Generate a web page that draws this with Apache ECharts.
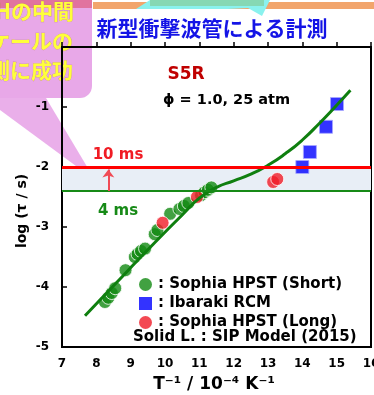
<!DOCTYPE html>
<html>
<head>
<meta charset="utf-8">
<script src="https://cdn.jsdelivr.net/npm/echarts@6/dist/echarts.min.js"></script>
<style>
html,body{margin:0;padding:0;background:#fff;}
#c{width:374px;height:395px;}
</style>
</head>
<body>
<div id="c"></div>
<script>
// Ignition delay times, log10(tau / s) against 1/T in 10^-4 K^-1
const sophiaShort = [
  [8.25,-4.25],[8.35,-4.18],[8.45,-4.10],[8.55,-4.02],[8.85,-3.72],
  [9.12,-3.50],[9.20,-3.45],[9.30,-3.40],[9.42,-3.36],[9.70,-3.12],
  [9.78,-3.05],[10.15,-2.78],[10.42,-2.70],[10.55,-2.65],[10.68,-2.60],
  [11.05,-2.47],[11.15,-2.42],[11.25,-2.38],[11.35,-2.34]
];
const ibarakiRcm = [[14.00,-2.00],[14.22,-1.75],[14.69,-1.33],[15.01,-0.95]];
const sophiaLong = [[9.93,-2.93],[10.93,-2.50],[13.15,-2.25],[13.27,-2.20]];
const sipModel = [
  [7.67,-4.48],[8.5,-3.98],[9.5,-3.38],[10.5,-2.80],[11.0,-2.52],[11.5,-2.34],
  [12.0,-2.23],[12.5,-2.12],[13.0,-1.97],[13.5,-1.78],[14.0,-1.55],[14.5,-1.27],
  [15.0,-0.97],[15.4,-0.72]
];
// Test-time limits of the two tube configurations, in ms
const limitTimesMs = [10, 4];
const xTickRange = [7, 16];
const yTickRange = [-5, 0];
const yHiddenLabels = ['0'];

const logLong = Math.log10(limitTimesMs[0] / 1000);
const logShort = Math.log10(limitTimesMs[1] / 1000);

const FONT = 'DejaVu Sans';
const chart = echarts.init(document.getElementById('c'), null, {renderer: 'canvas'});

const option = {
  animation: false,
  backgroundColor: '#ffffff',
  grid: {
    left: 62, right: 3, top: 47, bottom: 48,
    outerBoundsMode: 'none', containLabel: false,
    show: true, borderColor: '#000', borderWidth: 2, backgroundColor: 'transparent'
  },
  xAxis: {
    type: 'value', min: xTickRange[0], max: xTickRange[1], interval: 1,
    axisLine: {lineStyle: {color: '#000', width: 2}},
    axisTick: {inside: true, length: 5, lineStyle: {color: '#000', width: 1.5}},
    axisLabel: {color: '#000', fontFamily: FONT, fontWeight: 'bold', fontSize: 12, margin: 11, alignMaxLabel: 'center', hideOverlap: false},
    splitLine: {show: false}
  },
  yAxis: {
    type: 'value', min: yTickRange[0], max: yTickRange[1], interval: 1,
    axisLine: {lineStyle: {color: '#000', width: 2}},
    axisTick: {inside: true, length: 5, lineStyle: {color: '#000', width: 1.5}},
    axisLabel: {
      color: '#000', fontFamily: FONT, fontWeight: 'bold', fontSize: 12, margin: 13,
      formatter: v => yHiddenLabels.includes(String(v)) ? '' : String(v)
    },
    splitLine: {show: false}
  },
  legend: {
    orient: 'vertical', left: 134, top: 272,
    itemWidth: 13, itemHeight: 13, itemGap: 4,
    data: [
      {name: ': Sophia HPST (Short)', icon: 'circle'},
      {name: ': Ibaraki RCM', icon: 'rect'},
      {name: ': Sophia HPST (Long)', icon: 'circle'}
    ],
    itemStyle: {borderWidth: 0},
    textStyle: {color: '#000', fontFamily: FONT, fontWeight: 'bold', fontSize: 15, padding: [0, 0, 0, 1]}
  },
  series: [
    {
      name: 'limits', type: 'line', data: [], z: 1,
      markArea: {
        silent: true,
        itemStyle: {color: '#e8eef6'},
        data: [[{yAxis: logShort}, {yAxis: logLong}]]
      },
      markLine: {
        silent: true, symbol: ['none', 'none'], label: {show: false},
        data: [
          {yAxis: logLong, lineStyle: {color: '#ff0000', width: 3, type: 'solid'}},
          {yAxis: logShort, lineStyle: {color: '#178a17', width: 2, type: 'solid'}},
          [
            {coord: [8.35, logShort], symbol: 'none', lineStyle: {color: '#f04a55', width: 2, type: 'solid'}},
            {coord: [8.35, logLong - 0.04], symbol: 'arrow', symbolSize: [9, 8]}
          ]
        ]
      }
    },
    {
      name: ': Sophia HPST (Short)', type: 'scatter', data: sophiaShort, z: 3,
      symbol: 'circle', symbolSize: 13,
      itemStyle: {color: '#118a11', borderColor: '#ffffff', borderWidth: 1}
    },
    {
      name: ': Ibaraki RCM', type: 'scatter', data: ibarakiRcm, z: 3,
      symbol: 'rect', symbolSize: 13,
      itemStyle: {color: '#0000ff', borderColor: '#a8a8ff', borderWidth: 1}
    },
    {
      name: ': Sophia HPST (Long)', type: 'scatter', data: sophiaLong, z: 3,
      symbol: 'circle', symbolSize: 13,
      itemStyle: {color: '#f01c28', borderColor: '#ffffff', borderWidth: 1}
    },
    {
      name: 'SIP Model (2015)', type: 'line', data: sipModel, z: 4,
      smooth: 0.55, showSymbol: false,
      lineStyle: {color: '#0f7f0f', width: 3}
    }
  ],
  graphic: [
    // slide decoration strip along the top
    {type: 'rect', shape: {x: 93, y: 2, width: 290, height: 7}, style: {fill: '#f2a56c'}, z: 10},
    {type: 'polygon', shape: {points: [[136,9],[150,0],[270,0],[262,16],[248,8],[228,9]]}, style: {fill: '#8af2ee'}, z: 11},
    {type: 'rect', shape: {x: 150, y: 0, width: 114, height: 6}, style: {fill: '#86d8b4'}, z: 12},
    // heading
    {type: 'text', x: 212, y: 28, z: 20,
      style: {text: '新型衝撃波管による計測', fill: '#1414e6', font: 'bold 21px "Noto Sans CJK JP"', textAlign: 'center', textVerticalAlign: 'middle'}},
    // condition labels
    {type: 'text', x: 186, y: 75, z: 20,
      style: {text: 'S5R', fill: '#c00000', font: 'bold 17px "DejaVu Sans"', textAlign: 'center', textVerticalAlign: 'middle'}},
    {type: 'text', x: 163, y: 100, z: 20,
      style: {text: 'ϕ = 1.0, 25 atm', fill: '#000', font: 'bold 14.5px "DejaVu Sans"', textAlign: 'left', textVerticalAlign: 'middle'}},
    {type: 'text', x: 118, y: 155, z: 20,
      style: {text: limitTimesMs[0] + ' ms', fill: '#f01c24', font: 'bold 15px "DejaVu Sans"', textAlign: 'center', textVerticalAlign: 'middle'}},
    {type: 'text', x: 118, y: 211, z: 20,
      style: {text: limitTimesMs[1] + ' ms', fill: '#178a17', font: 'bold 15px "DejaVu Sans"', textAlign: 'center', textVerticalAlign: 'middle'}},
    {type: 'text', x: 133, y: 337, z: 20,
      style: {text: 'Solid L. : SIP Model (2015)', fill: '#000', font: 'bold 15px "DejaVu Sans"', textAlign: 'left', textVerticalAlign: 'middle'}},
    // axis titles
    {type: 'text', x: 22, y: 211, rotation: Math.PI / 2, z: 20,
      style: {text: 'log (τ / s)', fill: '#000', font: 'bold 14px "DejaVu Sans"', textAlign: 'center', textVerticalAlign: 'middle'}},
    {type: 'text', x: 214, y: 385, z: 20,
      style: {text: 'T⁻¹ / 10⁻⁴ K⁻¹', fill: '#000', font: 'bold 17px "DejaVu Sans"', textAlign: 'center', textVerticalAlign: 'middle'}},
    // callout balloon on the left edge
    {type: 'group', z: 30, children: [
      {type: 'rect', shape: {x: -14, y: 0, width: 106, height: 98, r: [0, 0, 12, 0]},
        style: {fill: 'rgba(216,110,216,0.6)'}},
      {type: 'polygon', shape: {points: [[0,98],[46,98],[95,180],[0,110]]},
        style: {fill: 'rgba(216,110,216,0.55)'}},
      {type: 'rect', shape: {x: 0, y: 0, width: 92, height: 8},
        style: {fill: 'rgba(220,80,110,0.6)'}},
      {type: 'text', x: -5, y: 11,
        style: {text: 'Hの中間', fill: '#ffff3a', font: 'bold 21px "Noto Sans CJK JP"', textAlign: 'left', textVerticalAlign: 'middle', stroke: 'rgba(170,120,60,0.5)', lineWidth: 0.6}},
      {type: 'text', x: 73, y: 41,
        style: {text: 'スケールの', fill: '#ffff3a', font: 'bold 21px "Noto Sans CJK JP"', textAlign: 'right', textVerticalAlign: 'middle', stroke: 'rgba(170,120,60,0.5)', lineWidth: 0.6}},
      {type: 'text', x: 73, y: 70,
        style: {text: '予測に成功', fill: '#ffff3a', font: 'bold 21px "Noto Sans CJK JP"', textAlign: 'right', textVerticalAlign: 'middle', stroke: 'rgba(170,120,60,0.5)', lineWidth: 0.6}}
    ]}
  ]
};

chart.setOption(option);
</script>
</body>
</html>
